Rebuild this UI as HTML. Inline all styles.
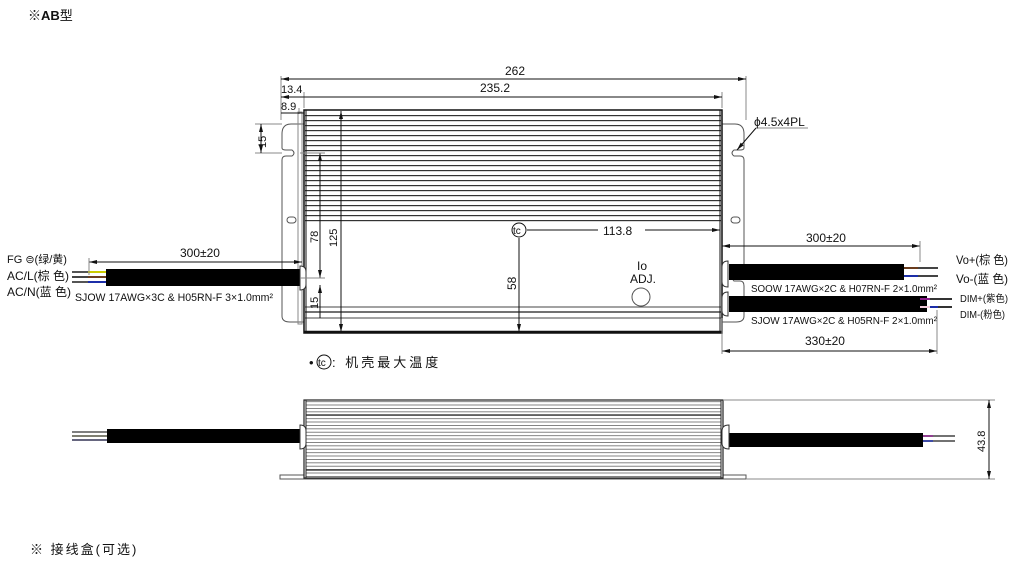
<!DOCTYPE html>
<html><head><meta charset="utf-8"><style>
body{margin:0;background:#fff}
svg{display:block}
text{font-family:"Liberation Sans","Noto Sans CJK SC",sans-serif;fill:#111}
</style></head><body>
<svg width="1011" height="567" viewBox="0 0 1011 567" xmlns="http://www.w3.org/2000/svg">
<defs>
<pattern id="fin" width="10" height="5" patternUnits="userSpaceOnUse"><rect width="10" height="1.2" fill="#333"/></pattern>
<pattern id="fin2" width="10" height="3.4" patternUnits="userSpaceOnUse"><rect width="10" height="0.8" fill="#666"/></pattern>
<marker id="a" markerWidth="8" markerHeight="6" refX="8" refY="3" orient="auto-start-reverse" markerUnits="userSpaceOnUse"><path d="M0,1 L8,3 L0,5z" fill="#111"/></marker>
</defs>
<text x="28" y="20" font-size="13"><tspan>※</tspan><tspan font-weight="bold">AB</tspan><tspan>型</tspan></text>

<g fill="none" stroke="#555" stroke-width="1">
<path d="M304,124 H291 Q282,124 282,134 V148 Q282,150 286,150 H292 Q296,153 292,156 H286 Q282,156 282,160 V268 Q282,272 286,272 H292 Q296,277 292,281 H286 Q282,281 282,286 V316 Q282,322 290,322 H304"/>
<path d="M722,124 H735 Q744,124 744,134 V148 Q744,150 740,150 H734 Q730,153 734,156 H740 Q744,156 744,160 V268 Q744,272 740,272 H734 Q730,277 734,281 H740 Q744,281 744,286 V316 Q744,322 736,322 H722"/>
<rect x="287" y="217" width="9" height="6" rx="3"/>
<rect x="731" y="217" width="9" height="6" rx="3"/>
<rect x="298" y="112" width="4" height="212" stroke="#888"/>
</g>
<rect x="304" y="110" width="418" height="223" fill="#fff" stroke="#111" stroke-width="1.5"/>
<rect x="305" y="113" width="416" height="110" fill="url(#fin)"/>
<line x1="305" y1="307" x2="721" y2="307" stroke="#444" stroke-width="1"/>
<line x1="305" y1="312" x2="721" y2="312" stroke="#444" stroke-width="1.5"/>
<line x1="305" y1="318" x2="721" y2="318" stroke="#444" stroke-width="1"/>
<line x1="304" y1="332" x2="722" y2="332" stroke="#111" stroke-width="2.5"/>
<line x1="306" y1="110" x2="306" y2="333" stroke="#111" stroke-width="1"/>
<line x1="720" y1="110" x2="720" y2="333" stroke="#111" stroke-width="1"/>

<rect x="106" y="269" width="194" height="17" fill="#000"/>
<path d="M300,266 Q306,266 306,272 V284 Q306,290 300,290 Z" fill="#fff" stroke="#333"/>
<g stroke-width="2"><line x1="72" y1="272" x2="106" y2="272" stroke="#555"/><line x1="88" y1="272" x2="106" y2="272" stroke="#cc0"/>
<line x1="72" y1="277" x2="106" y2="277" stroke="#444"/><line x1="88" y1="277" x2="106" y2="277" stroke="#6b3d1e"/>
<line x1="72" y1="282" x2="106" y2="282" stroke="#555"/><line x1="88" y1="282" x2="106" y2="282" stroke="#1c2ea8"/></g>
<text x="7" y="263" font-size="11">FG ⊜(绿/黄)</text>
<text x="7" y="280" font-size="12">AC/L(棕 色)</text>
<text x="7" y="296" font-size="12">AC/N(蓝 色)</text>
<text x="75" y="301" font-size="11" textLength="198" lengthAdjust="spacingAndGlyphs">SJOW 17AWG×3C &amp; H05RN-F 3×1.0mm²</text>
<line x1="89" y1="262" x2="302" y2="262" stroke="#111" marker-start="url(#a)" marker-end="url(#a)"/>
<line x1="89" y1="258" x2="89" y2="275" stroke="#888"/>
<text x="180" y="257" font-size="12">300±20</text>

<rect x="729" y="264" width="175" height="16" fill="#000"/>
<rect x="729" y="296" width="198" height="16" fill="#000"/>
<path d="M728,261 Q722,261 722,267 V282 Q722,287 728,287 Z" fill="#fff" stroke="#333"/>
<path d="M728,292 Q722,292 722,298 V311 Q722,316 728,316 Z" fill="#fff" stroke="#333"/>
<g stroke-width="2"><line x1="904" y1="268" x2="938" y2="268" stroke="#444"/><line x1="904" y1="268" x2="918" y2="268" stroke="#6b3d1e"/>
<line x1="904" y1="276" x2="938" y2="276" stroke="#444"/><line x1="904" y1="276" x2="918" y2="276" stroke="#1c2ea8"/>
<line x1="927" y1="299" x2="952" y2="299" stroke="#333"/><line x1="920" y1="299" x2="930" y2="299" stroke="#8b1c8b"/>
<line x1="927" y1="307" x2="952" y2="307" stroke="#333"/><line x1="920" y1="307" x2="930" y2="307" stroke="#f0c8d8"/><line x1="930" y1="307" x2="938" y2="307" stroke="#1c2ea8"/></g>
<text x="956" y="264" font-size="12" textLength="52" lengthAdjust="spacingAndGlyphs">Vo+(棕 色)</text>
<text x="956" y="283" font-size="12" textLength="52" lengthAdjust="spacingAndGlyphs">Vo-(蓝 色)</text>
<text x="960" y="302" font-size="10" textLength="48" lengthAdjust="spacingAndGlyphs">DIM+(紫色)</text>
<text x="960" y="318" font-size="10" textLength="45" lengthAdjust="spacingAndGlyphs">DIM-(粉色)</text>
<text x="751" y="292" font-size="10" textLength="186" lengthAdjust="spacingAndGlyphs">SOOW 17AWG×2C &amp; H07RN-F 2×1.0mm²</text>
<text x="751" y="324" font-size="10" textLength="186" lengthAdjust="spacingAndGlyphs">SJOW 17AWG×2C &amp; H05RN-F 2×1.0mm²</text>
<line x1="722" y1="246" x2="920" y2="246" stroke="#111" marker-start="url(#a)" marker-end="url(#a)"/>
<line x1="920" y1="241" x2="920" y2="262" stroke="#888"/>
<text x="806" y="242" font-size="12">300±20</text>
<line x1="722" y1="351" x2="937" y2="351" stroke="#111" marker-start="url(#a)" marker-end="url(#a)"/>
<line x1="937" y1="310" x2="937" y2="354" stroke="#888"/>
<line x1="722" y1="318" x2="722" y2="354" stroke="#888"/>
<text x="805" y="345" font-size="12">330±20</text>

<g stroke="#888" fill="none">
<line x1="281" y1="76" x2="281" y2="120"/>
<line x1="746" y1="76" x2="746" y2="120"/>
<line x1="304" y1="92" x2="304" y2="108"/>
<line x1="722" y1="92" x2="722" y2="108"/>
<line x1="299" y1="108" x2="299" y2="114"/>
</g>
<line x1="281" y1="79" x2="746" y2="79" stroke="#111" marker-start="url(#a)" marker-end="url(#a)"/>
<text x="505" y="75" font-size="12">262</text>
<line x1="281" y1="97" x2="722" y2="97" stroke="#111" marker-start="url(#a)" marker-end="url(#a)"/>
<text x="480" y="92" font-size="12">235.2</text>
<text x="281" y="93" font-size="11">13.4</text>
<line x1="281" y1="113" x2="304" y2="113" stroke="#111"/>
<text x="281" y="110" font-size="11">8.9</text>
<line x1="255" y1="124" x2="282" y2="124" stroke="#888"/>
<line x1="255" y1="153" x2="282" y2="153" stroke="#888"/>
<line x1="261" y1="124" x2="261" y2="153" stroke="#111" marker-start="url(#a)" marker-end="url(#a)"/>
<text font-size="11" transform="translate(266,148) rotate(-90)">15</text>
<line x1="341" y1="111" x2="341" y2="332" stroke="#111" marker-start="url(#a)" marker-end="url(#a)"/>
<text font-size="11" transform="translate(337,247) rotate(-90)">125</text>
<line x1="320" y1="153" x2="320" y2="278" stroke="#111" marker-start="url(#a)" marker-end="url(#a)"/>
<line x1="300" y1="153" x2="325" y2="153" stroke="#888"/>
<line x1="300" y1="278" x2="325" y2="278" stroke="#888"/>
<text font-size="11" transform="translate(318,243) rotate(-90)">78</text>
<line x1="320" y1="285" x2="320" y2="318" stroke="#111" marker-start="url(#a)"/>
<text font-size="11" transform="translate(318,309) rotate(-90)">15</text>
<circle cx="519" cy="230" r="7" fill="#fff" stroke="#111"/>
<text x="513" y="234" font-size="10">tc</text>
<line x1="527" y1="230" x2="598" y2="230" stroke="#111"/>
<line x1="645" y1="230" x2="720" y2="230" stroke="#111" marker-end="url(#a)"/>
<text x="603" y="235" font-size="12">113.8</text>
<line x1="519" y1="238" x2="519" y2="332" stroke="#111" marker-end="url(#a)"/>
<text font-size="12" transform="translate(516,290) rotate(-90)">58</text>
<text x="637" y="270" font-size="12">Io</text>
<text x="630" y="283" font-size="12">ADJ.</text>
<circle cx="641" cy="297" r="9" fill="none" stroke="#555"/>
<line x1="737" y1="150" x2="756" y2="128" stroke="#111" marker-start="url(#a)"/>
<line x1="756" y1="128" x2="808" y2="128" stroke="#888"/>
<text x="754" y="126" font-size="12">ϕ4.5x4PL</text>

<text x="309" y="367" font-size="13">•</text>
<circle cx="324" cy="362" r="7" fill="none" stroke="#111"/>
<text x="318" y="366" font-size="10">tc</text>
<text x="332" y="367" font-size="13" letter-spacing="3">: 机壳最大温度</text>

<rect x="280" y="475" width="466" height="4" fill="#fff" stroke="#555"/>
<rect x="304" y="400" width="419" height="78" fill="#fff" stroke="#222" stroke-width="1.2"/>
<rect x="306" y="401" width="415" height="76" fill="url(#fin2)"/>
<line x1="306" y1="415" x2="721" y2="415" stroke="#222" stroke-width="1.2"/>
<line x1="306" y1="470" x2="721" y2="470" stroke="#222" stroke-width="1.2"/>
<line x1="306" y1="400" x2="306" y2="478" stroke="#222"/>
<line x1="721" y1="400" x2="721" y2="478" stroke="#222"/>
<rect x="107" y="429" width="193" height="14" fill="#000"/>
<g stroke-width="1.5"><line x1="72" y1="432" x2="107" y2="432" stroke="#555"/><line x1="72" y1="436" x2="107" y2="436" stroke="#554"/><line x1="72" y1="440" x2="107" y2="440" stroke="#335"/></g>
<path d="M300,425 Q306,425 306,431 V443 Q306,449 300,449 Z" fill="#fff" stroke="#333"/>
<rect x="729" y="433" width="194" height="14" fill="#000"/>
<path d="M729,425 Q722,425 722,431 V443 Q722,449 729,449 Z" fill="#fff" stroke="#333"/>
<g stroke-width="1.5"><line x1="923" y1="436" x2="955" y2="436" stroke="#444"/><line x1="923" y1="436" x2="933" y2="436" stroke="#8b1c8b"/><line x1="923" y1="441" x2="955" y2="441" stroke="#444"/><line x1="923" y1="441" x2="933" y2="441" stroke="#1c2ea8"/></g>
<line x1="723" y1="400" x2="995" y2="400" stroke="#888"/>
<line x1="746" y1="479" x2="995" y2="479" stroke="#888"/>
<line x1="989" y1="400" x2="989" y2="479" stroke="#111" marker-start="url(#a)" marker-end="url(#a)"/>
<text font-size="11" transform="translate(985,452) rotate(-90)">43.8</text>

<text x="30" y="554" font-size="13" letter-spacing="2">※ 接线盒(可选)</text>
</svg>
</body></html>
